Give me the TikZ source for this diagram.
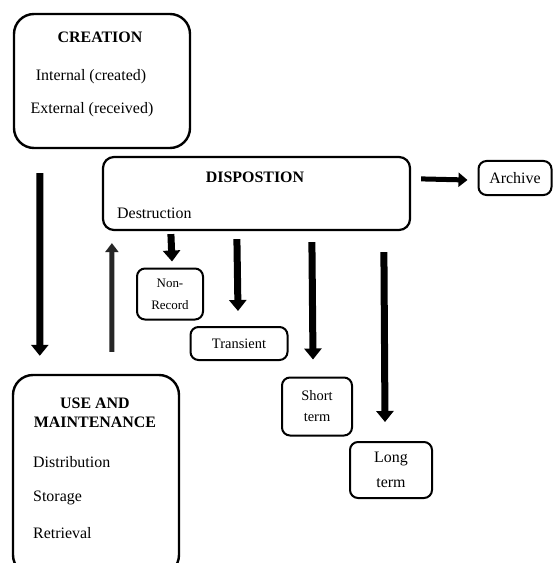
\documentclass[tikz,border=0pt]{standalone}
\usepackage{fontspec}
\setmainfont{Liberation Serif}
\usetikzlibrary{arrows.meta}
\tikzset{
  bigbox/.style={draw, line width=2.4bp, rounded corners=20bp, inner sep=0pt},
  midbox/.style={draw, line width=2.2bp, rounded corners=11bp, inner sep=0pt},
  smallbox/.style={draw, line width=2bp, rounded corners=8bp, inner sep=0pt, align=center},
  txt/.style={inner sep=0pt, font=\fontsize{16}{19}\selectfont},
  btxt/.style={inner sep=0pt, font=\fontsize{16}{19}\selectfont\bfseries},
  bigarrow/.style={line width=7bp, -{Triangle[width=17bp,length=11bp]}},
  sidearrow/.style={line width=5bp, -{Triangle[width=14bp,length=9bp]}},
  uparrow/.style={line width=5bp, black!85, -{Triangle[width=13bp,length=9bp]}},
}
\begin{document}
\begin{tikzpicture}[x=1bp,y=-1bp]
\useasboundingbox (0,0) rectangle (554,563);
\clip (0,0) rectangle (554,563);
\fill[white] (0,0) rectangle (554,563);

% CREATION
\node[bigbox, minimum width=176bp, minimum height=134bp] (creation) at (102,81) {};
\node[btxt] (creationT) at (100,37) {CREATION};
\node[txt] (internal) at (91,77) {Internal (created)};
\node[txt] (external) at (92,110) {External (received)};

% DISPOSTION
\node[midbox, minimum width=307bp, minimum height=73bp] (disp) at (256.5,193.5) {};
\node[btxt] (dispT) at (255,177) {DISPOSTION};
\node[txt, anchor=west] (destr) at (117,213) {Destruction};

% Archive
\node[smallbox, minimum width=73bp, minimum height=34bp, font=\fontsize{16}{19}\selectfont] (archive) at (515,178) {Archive};

% Non-Record
\node[smallbox, minimum width=66bp, minimum height=51bp, font=\fontsize{13}{22}\selectfont] (nonrec) at (170,294) {Non-\\Record};

% Transient
\node[smallbox, minimum width=97bp, minimum height=33bp, font=\fontsize{14.5}{17}\selectfont] (trans) at (239,343.5) {Transient};

% Short term
\node[smallbox, minimum width=70bp, minimum height=58bp, font=\fontsize{14.5}{21}\selectfont] (short) at (317,406.5) {Short\\term};

% Long term
\node[smallbox, minimum width=82bp, minimum height=56bp, font=\fontsize{16}{25}\selectfont] (long) at (391,470) {Long\\term};

% USE AND MAINTENANCE
\node[bigbox, minimum width=166bp, minimum height=200bp] (use) at (96,475) {};
\node[btxt, align=center] (useT) at (95,413) {USE AND\\MAINTENANCE};
\node[txt, anchor=west] (distr) at (33,462) {Distribution};
\node[txt, anchor=west] (stor) at (33,498) {Storage};
\node[txt, anchor=west] (retr) at (33,533) {Retrieval};

% connectors
\draw[bigarrow] ([shift={(27,24)}]creation.south west) -- ([shift={(28,-18)}]use.north west);
\draw[uparrow] ([shift={(100,-22)}]use.north west) -- ([shift={(10,12)}]disp.south west);
\draw[sidearrow] ([shift={(10,23)}]disp.north east) -- ([shift={(-10,2)}]archive.west);
\draw[bigarrow] ([shift={(69,3)}]disp.south west) -- ([shift={(2,-6)}]nonrec.north);
\draw[bigarrow] ([shift={(135,8)}]disp.south west) -- ([shift={(-1,-15)}]trans.north);
\draw[bigarrow] ([shift={(210,11)}]disp.south west) -- ([shift={(-4,-17)}]short.north);
\draw[bigarrow] ([shift={(282,21)}]disp.south west) -- ([shift={(-6,-19)}]long.north);
\end{tikzpicture}
\end{document}
